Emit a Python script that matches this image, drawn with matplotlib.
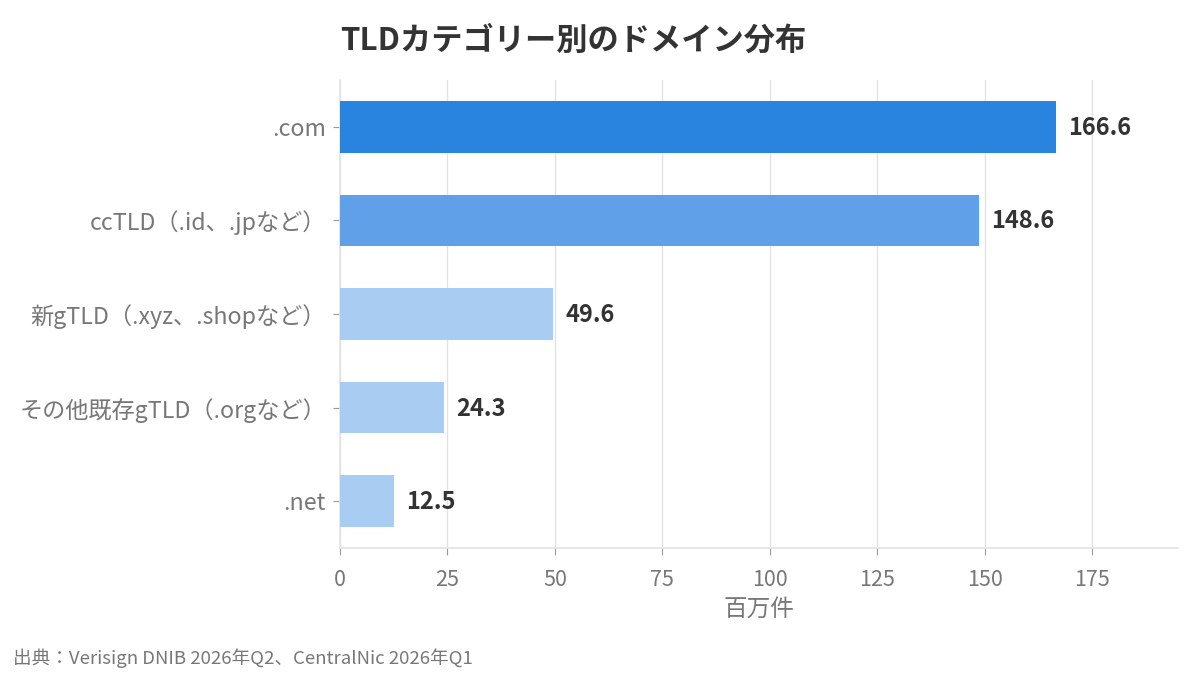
import matplotlib
matplotlib.use('Agg')
import matplotlib.pyplot as plt

plt.rcParams['font.family'] = ['Noto Sans CJK JP', 'DejaVu Sans']

categories = ['.com', 'ccTLD（.id、.jpなど）', '新gTLD（.xyz、.shopなど）',
              'その他既存gTLD（.orgなど）', '.net']
values = [166.6, 148.6, 49.6, 24.3, 12.5]
colors = ['#2884DE', '#5FA0E8', '#A9CCF2', '#A9CCF2', '#A9CCF2']
xticks = [0, 25, 50, 75, 100, 125, 150, 175]

fig = plt.figure(figsize=(12, 6.75), dpi=100)
ax = fig.add_axes([340 / 1200, 1 - 548 / 675, (1178 - 340) / 1200, (548 - 80) / 675])

ypos = list(range(len(categories)))
ax.barh(ypos, values, height=0.55, color=colors, zorder=3)
ax.set_yticks(ypos)
ax.set_yticklabels(categories)
ax.set_ylim(len(categories) - 0.5, -0.5)
ax.set_xlim(0, max(values) * 1.17)
ax.set_xticks(xticks)

# 値ラベル
for y, v in zip(ypos, values):
    ax.text(v + 2.8, y + 0.01, f'{v:.1f}', va='center', ha='left', fontsize=17,
            fontweight='bold', color='#333333')

ax.grid(axis='x', color='#e3e3e3', linewidth=1, zorder=0)
for s in ['top', 'right']:
    ax.spines[s].set_visible(False)
for s in ['left', 'bottom']:
    ax.spines[s].set_color('#e3e3e3')
    ax.spines[s].set_linewidth(1.2)
ax.tick_params(axis='both', colors='#777777', length=5)
ax.tick_params(axis='y', labelsize=16.7, pad=5)
ax.tick_params(axis='x', labelsize=15.5, pad=10)
ax.tick_params(axis='both', color='#999999')
ax.set_xlabel('百万件', fontsize=17, color='#777777', labelpad=5)

fig.text(340 / 1200, 1 - 41 / 675, 'TLDカテゴリー別のドメイン分布', fontsize=22.5,
         fontweight='bold', color='#333333', va='center', ha='left')
fig.text(13 / 1200, 1 - 658 / 675, '出典：Verisign DNIB 2026年Q2、CentralNic 2026年Q1',
         fontsize=13.4, color='#777777', va='center', ha='left')

fig.savefig('out.png', dpi=100)
